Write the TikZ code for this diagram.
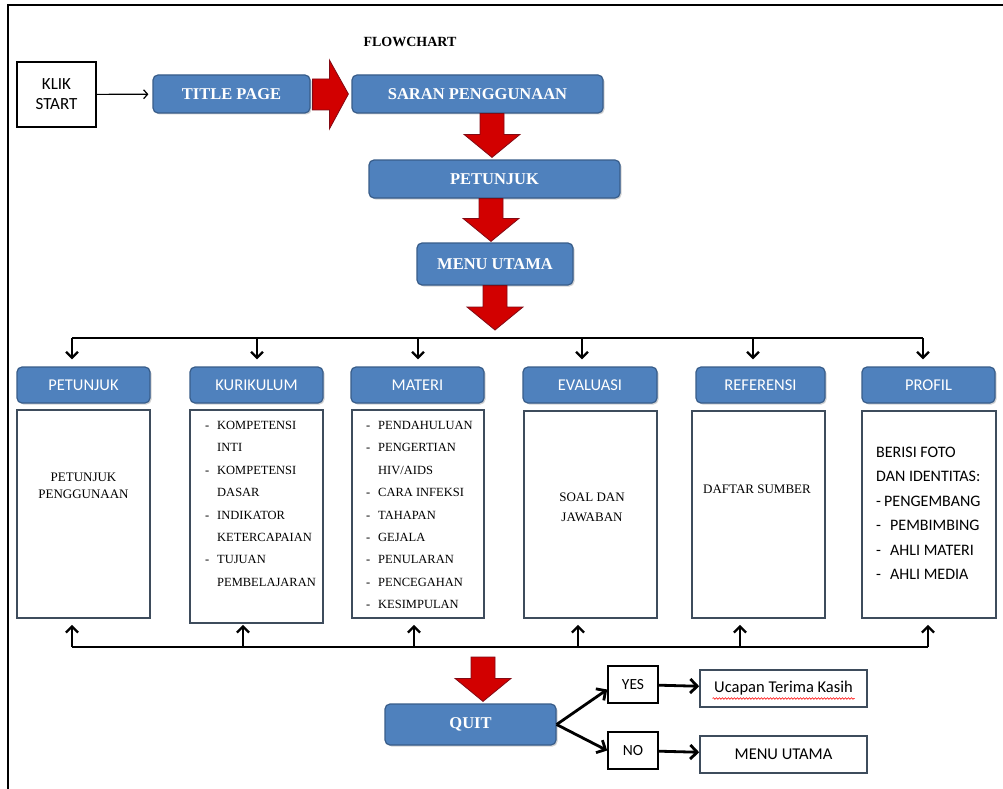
\documentclass[tikz,border=0pt]{standalone}
\usepackage{fontspec}
\setmainfont{Liberation Serif}
\newfontfamily\calfont{Carlito}
\usetikzlibrary{arrows.meta,calc,shadows,decorations.pathmorphing}
\definecolor{bfill}{RGB}{79,129,189}
\definecolor{bline}{RGB}{56,93,138}
\definecolor{redf}{RGB}{210,0,0}
\definecolor{redd}{RGB}{130,10,20}
\definecolor{cline}{RGB}{62,76,92}
% vertical red block arrow: #1 from anchor, #2 to anchor, #3 x centre, #4 gap before target
\newcommand\redV[4]{%
  \path[redarr] let \p1=(#1), \p2=(#2) in
    ({#3pt-12pt},\y1) -- ({#3pt+12pt},\y1) -- ({#3pt+12pt},{\y2+#4pt+23pt})
    -- ({#3pt+28pt},{\y2+#4pt+23pt}) -- (#3pt,{\y2+#4pt})
    -- ({#3pt-28pt},{\y2+#4pt+23pt}) -- ({#3pt-12pt},{\y2+#4pt+23pt}) -- cycle;}
% horizontal red block arrow
\newcommand\redH[2]{%
  \path[redarr] let \p1=(#1), \p2=(#2) in
    ({\x1+2pt},{\y1+15pt}) -- ({\x2-22pt},{\y1+15pt}) -- ({\x2-22pt},{\y1+34pt})
    -- ({\x2-3pt},\y1) -- ({\x2-22pt},{\y1-35pt}) -- ({\x2-22pt},{\y1-16pt})
    -- ({\x1+2pt},{\y1-16pt}) -- cycle;}
\begin{document}
\begin{tikzpicture}[x=1pt,y=-1pt,
  redarr/.style={fill=redf,draw=redd,line width=0.8pt},
  topbox/.style={rounded corners=5pt,fill=bfill,draw=bline,line width=1.2pt,text=white,
    inner sep=0pt,font=\bfseries\fontsize{16.5}{18}\selectfont,
    drop shadow={opacity=0.35,shadow xshift=1.5pt,shadow yshift=-1.5pt}},
  headbox/.style={rounded corners=5pt,fill=bfill,draw=bline,line width=1.2pt,text=white,
    inner sep=0pt,minimum height=36pt,font=\calfont\fontsize{16.5}{18}\selectfont,
    drop shadow={opacity=0.35,shadow xshift=1.5pt,shadow yshift=-1.5pt}},
  cbox/.style={draw=cline,line width=1.8pt,fill=white,inner sep=0pt},
  serl/.style={inner sep=0pt,align=left,anchor=north west,font=\fontsize{12.5}{22.4}\selectfont},
  serc/.style={inner sep=0pt,align=center,font=\fontsize{13}{17}\selectfont},
  bus/.style={line width=2.3pt},
  barrow/.style={line width=2.3pt,-{Straight Barb[length=6pt,width=12pt]}},
  qarrow/.style={line width=2.8pt,-{Straight Barb[length=7pt,width=14pt]}},
  smallbox/.style={draw=black,line width=1.6pt,inner sep=0pt,font=\calfont\fontsize{15.5}{18}\selectfont},
  endbox/.style={draw=cline,line width=1.6pt,inner sep=0pt,minimum width=167pt,minimum height=37pt,
    font=\calfont\fontsize{16.5}{18}\selectfont}
]
\useasboundingbox (0,0) rectangle (1003,789);
\fill[white] (0,0) rectangle (1003,789);
\draw[line width=2pt] (1003,5) -- (8,5) -- (8,789);

\node[font=\bfseries\fontsize{14}{16}\selectfont] (ttl) at (410,42) {FLOWCHART};

\node[draw,line width=2pt,minimum width=79pt,minimum height=65pt,inner sep=0pt,align=center,
  font=\calfont\fontsize{17}{20}\selectfont] (kl) at (56.5,94.5) {KLIK\\START};
\node[topbox,minimum width=157pt,minimum height=38pt] (tit) at (231.5,94) {TITLE PAGE};
\node[topbox,minimum width=251pt,minimum height=38pt] (sar) at (477.5,94) {SARAN PENGGUNAAN};
\node[topbox,minimum width=251pt,minimum height=38pt] (pet) at (494.5,179) {PETUNJUK};
\node[topbox,minimum width=156pt,minimum height=42pt] (men) at (495,264) {MENU UTAMA};

\draw[line width=1.2pt,-{Straight Barb[length=4pt,width=9pt]},shorten >=4pt] (kl) -- (tit);
\redH{tit.east}{sar.west}
\redV{sar.south}{pet.north}{492}{2}
\redV{pet.south}{men.north}{491}{1}

% headers
\node[headbox,minimum width=133pt] (h1) at (83.5,385) {PETUNJUK};
\node[headbox,minimum width=133pt] (h2) at (256.5,385) {KURIKULUM};
\node[headbox,minimum width=133pt] (h3) at (417.5,385) {MATERI};
\node[headbox,minimum width=134pt] (h4) at (590,385) {EVALUASI};
\node[headbox,minimum width=129pt] (h5) at (760.5,385) {REFERENSI};
\node[headbox,minimum width=133pt] (h6) at (928.5,385) {PROFIL};

% top bus
\coordinate (t1) at (72,338);
\coordinate (t2) at (257,338);
\coordinate (t3) at (418,338);
\coordinate (t4) at (582,338);
\coordinate (t5) at (753,338);
\coordinate (t6) at (923,338);
\redV{men.south}{t4 -| men.south}{495}{8}
\draw[bus] (t1) -- (t6);
\foreach \i in {1,...,6}{\draw[barrow,shorten >=7pt] (t\i) -- (t\i |- h\i.north);}

% content boxes
\node[cbox,minimum width=133pt,minimum height=208pt] (c1) at (83.5,514) {};
\node[cbox,minimum width=133pt,minimum height=213pt] (c2) at (256.5,516.5) {};
\node[cbox,minimum width=132pt,minimum height=208pt] (c3) at (418,514) {};
\node[cbox,minimum width=133pt,minimum height=207pt] (c4) at (590.5,514.5) {};
\node[cbox,minimum width=133pt,minimum height=207pt] (c5) at (758.5,514.5) {};
\node[cbox,minimum width=134pt,minimum height=207pt] (c6) at (929,514.5) {};

\node[serc] (x1) at (83.5,486) {PETUNJUK\\PENGGUNAAN};
\node[serl] (x2) at (205,421) {%
\makebox[12pt][l]{-}KOMPETENSI\\
\makebox[12pt][l]{}INTI\\
\makebox[12pt][l]{-}KOMPETENSI\\
\makebox[12pt][l]{}DASAR\\
\makebox[12pt][l]{-}INDIKATOR\\
\makebox[12pt][l]{}KETERCAPAIAN\\
\makebox[12pt][l]{-}TUJUAN\\
\makebox[12pt][l]{}PEMBELAJARAN};
\node[serl] (x3) at (366,421) {%
\makebox[12pt][l]{-}PENDAHULUAN\\
\makebox[12pt][l]{-}PENGERTIAN\\
\makebox[12pt][l]{}HIV/AIDS\\
\makebox[12pt][l]{-}CARA INFEKSI\\
\makebox[12pt][l]{-}TAHAPAN\\
\makebox[12pt][l]{-}GEJALA\\
\makebox[12pt][l]{-}PENULARAN\\
\makebox[12pt][l]{-}PENCEGAHAN\\
\makebox[12pt][l]{-}KESIMPULAN};
\node[inner sep=0pt,align=center,font=\fontsize{13}{20}\selectfont] (x4) at (592,507) {SOAL DAN\\JAWABAN};
\node[inner sep=0pt,font=\fontsize{13}{15}\selectfont] (x5) at (757,489) {DAFTAR SUMBER};
\node[inner sep=0pt,align=left,anchor=north west,font=\calfont\fontsize{16}{24.4}\selectfont] (x6) at (876,447) {%
BERISI FOTO\\
DAN IDENTITAS:\\
\makebox[8pt][l]{-}PENGEMBANG\\
\makebox[14pt][l]{-}PEMBIMBING\\
\makebox[14pt][l]{-}AHLI MATERI\\
\makebox[14pt][l]{-}AHLI MEDIA};

% bottom bus
\coordinate (u1) at (72,647);
\coordinate (u2) at (243,647);
\coordinate (u3) at (414,647);
\coordinate (u4) at (578,647);
\coordinate (u5) at (740,647);
\coordinate (u6) at (928,647);
\draw[bus] (u1) -- (u6);
\draw[barrow,shorten >=6pt] (u1) -- (u1 |- c1.south);
\draw[barrow,shorten >=1pt] (u2) -- (u2 |- c2.south);
\foreach \i in {3,...,6}{\draw[barrow,shorten >=6pt] (u\i) -- (u\i |- c\i.south);}

% quit part
\node[topbox,minimum width=171pt,minimum height=41pt] (quit) at (470.5,724.5) {QUIT};
\coordinate (rq) at (483,657);
\redV{rq}{quit.north}{483}{2}
\node[smallbox,minimum width=50pt,minimum height=37pt] (yes) at (633,684.5) {YES};
\node[smallbox,minimum width=50pt,minimum height=37pt] (no) at (633,750.5) {NO};
\node[endbox] (uc) at (783.5,688.5) {Ucapan Terima Kasih};
\node[endbox] (mu) at (783.5,754.5) {MENU UTAMA};
\draw[red,line width=0.6pt,decorate,decoration={snake,amplitude=0.8pt,segment length=3pt}]
  ($(uc.center)+(-71,10)$) -- ($(uc.center)+(71,10)$);
\draw[qarrow] (quit.east) -- ($(yes.west)+(0,5)$);
\draw[qarrow] (quit.east) -- (no.west);
\draw[qarrow] (yes) -- (uc);
\draw[qarrow] (no) -- (mu);
\end{tikzpicture}
\end{document}
